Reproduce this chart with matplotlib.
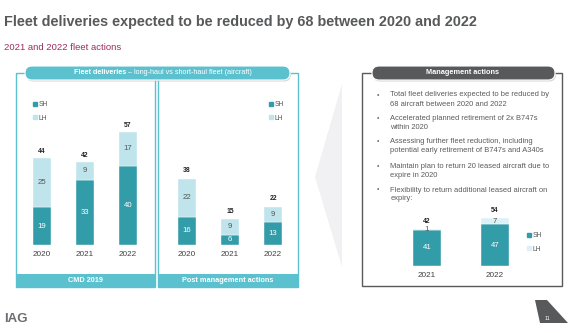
import numpy as np
import matplotlib
matplotlib.use('Agg')
import matplotlib.pyplot as plt
from matplotlib.patches import Rectangle, FancyBboxPatch, Polygon
from matplotlib.lines import Line2D

plt.rcParams['font.family'] = ['Liberation Sans', 'DejaVu Sans']

# chart data
years = ['2020', '2021', '2022']
cmd_sh = [19, 33, 40]
cmd_lh = [25, 9, 17]
post_sh = [16, 6, 13]
post_lh = [22, 9, 9]
mgmt_years = ['2021', '2022']
mgmt_sh = [41, 47]
mgmt_lh = [1, 7]

bullets = [
    ['Total fleet deliveries expected to be reduced by', '68 aircraft between 2020 and 2022'],
    ['Accelerated planned retirement of 2x B747s', 'within 2020'],
    ['Assessing further fleet reduction, including', 'potential early retirement of B747s and A340s'],
    ['Maintain plan to return 20 leased aircraft due to', 'expire in 2020'],
    ['Flexibility to return additional leased aircraft on', 'expiry:'],
]

W, H = 580, 333
TEAL = '#339ca9'
LIGHT = '#bfe4eb'
BAND = '#5cc1ce'
DARK = '#58595b'
TXT = '#404040'

fig = plt.figure(figsize=(W / 100, H / 100), dpi=100)
bg = fig.add_axes([0, 0, 1, 1])
bg.set_xlim(0, W)
bg.set_ylim(H, 0)
bg.axis('off')


def px_axes(x0, y0, x1, y1):
    a = fig.add_axes([x0 / W, 1 - y1 / H, (x1 - x0) / W, (y1 - y0) / H])
    a.patch.set_alpha(0)
    return a


def pill(x0, y0, x1, y1, color):
    r = (y1 - y0) / 2
    sh = FancyBboxPatch((x0 + 1, y0 + 1.5), x1 - x0, y1 - y0,
                        boxstyle='round,pad=0,rounding_size=%f' % r,
                        fc='#bbbbbb', ec='none', alpha=0.6, zorder=3)
    bg.add_patch(sh)
    p = FancyBboxPatch((x0, y0), x1 - x0, y1 - y0,
                       boxstyle='round,pad=0,rounding_size=%f' % r,
                       fc=color, ec='white', lw=0.8, zorder=4)
    bg.add_patch(p)


# title block
bg.text(4, 22, 'Fleet deliveries expected to be reduced by 68 between 2020 and 2022',
        fontsize=10.4, fontweight='bold', color=DARK, va='center', ha='left')
bg.text(4, 47, '2021 and 2022 fleet actions', fontsize=6.8, color='#9b2d5f',
        va='center', ha='left')

# left panels
for x0, x1, lab in [(16, 155, 'CMD 2019'), (158, 298, 'Post management actions')]:
    bg.add_patch(Rectangle((x0, 73), x1 - x0, 214, fc='white', ec=BAND, lw=1.0, zorder=1))
    bg.add_patch(Rectangle((x0, 274), x1 - x0, 13, fc=BAND, ec='none', zorder=2))
    bg.text((x0 + x1) / 2, 280.5, lab, fontsize=5.3, fontweight='bold', color='white',
            ha='center', va='center', zorder=3)
pill(25, 66, 290, 80, BAND)
bg.text(126, 73, 'Fleet deliveries', fontsize=5.2, fontweight='bold', color='white',
        ha='right', va='center', zorder=5)
bg.text(128.5, 73, '\u2013 long-haul vs short-haul fleet (aircraft)', fontsize=5.2,
        color='white', ha='left', va='center', zorder=5)

# faint chevron
bg.add_patch(Polygon([(342, 84), (315, 177), (342, 267)], closed=True,
                     fc='#f1f1f3', ec='none', zorder=0))

# management box
bg.add_patch(Rectangle((362, 73), 200, 213, fc='white', ec=DARK, lw=1.0, zorder=1))
pill(372, 66, 555, 80, DARK)
bg.text(463, 73, 'Management actions', fontsize=5.3, fontweight='bold', color='white',
        ha='center', va='center', zorder=5)

by = [95, 118.5, 141.7, 166.5, 190]
for y, lines in zip(by, bullets):
    bg.text(378, y, '\u2022', fontsize=5.0, color='#707070', ha='center', va='center')
    for k, ln in enumerate(lines):
        bg.text(390.5, y + 9 * k, ln, fontsize=5.4, color='#5a5a5a', ha='left', va='center')

# page marker and logo
bg.add_patch(Polygon([(535, 300), (547, 300), (568, 323), (540, 323)], closed=True,
                     fc=DARK, ec='none'))
bg.text(547, 318, '11', fontsize=3.8, color='white', ha='center', va='center')
bg.text(4, 319, 'IAG', fontsize=9.5, fontweight='bold', color='#6d6e71', ha='left', va='center')


def stacked(ax, labels, sh, lh, width, lh_color, tot_off):
    x = np.arange(len(labels))
    ax.bar(x, sh, width, color=TEAL, ec='white', lw=0.3, zorder=2)
    ax.bar(x, lh, width, bottom=sh, color=lh_color, ec='white', lw=0.3, zorder=2)
    for i in range(len(x)):
        ax.text(x[i], sh[i] / 2, str(sh[i]), ha='center', va='center', fontsize=5.6,
                color='white', zorder=3)
        ax.text(x[i], sh[i] + lh[i] / 2, str(lh[i]), ha='center', va='center',
                fontsize=5.6, color='#555555', zorder=3)
        ax.annotate(str(sh[i] + lh[i]), (x[i], sh[i] + lh[i]), xytext=(0, tot_off),
                    textcoords='offset points', ha='center', va='center', fontsize=4.9,
                    fontweight='bold', color='#222222')
    ax.set_xlim(-0.5, len(x) - 0.5)
    ax.axhline(0, color='#cccccc', lw=0.6, ls=':', zorder=1)
    ax.set_xticks(x)
    ax.set_xticklabels(labels, fontsize=5.9, color=TXT)
    ax.tick_params(length=0, pad=4)
    ax.set_yticks([])
    for s in ax.spines.values():
        s.set_visible(False)


def legend(ax, x, y, lh_color):
    h = [Line2D([], [], marker='s', ls='none', color=TEAL, markersize=2.6),
         Line2D([], [], marker='s', ls='none', color=lh_color, markersize=2.6)]
    ax.legend(h, ['SH', 'LH'], loc='upper left', bbox_to_anchor=(x / W, 1 - y / H),
              bbox_transform=fig.transFigure, frameon=False, fontsize=4.9,
              handlelength=0.6, handletextpad=0.2, labelspacing=0.9, borderpad=0,
              labelcolor='#555555')


ax1 = px_axes(20.5, 106.4, 149.5, 245)
ax1.set_ylim(0, 70)
stacked(ax1, years, cmd_sh, cmd_lh, 0.4, LIGHT, 4.5)
legend(ax1, 30, 98, LIGHT)

ax2 = px_axes(165.5, 122.5, 294.5, 245)
ax2.set_ylim(0, 70)
stacked(ax2, years, post_sh, post_lh, 0.4, LIGHT, 5.5)
legend(ax2, 266, 98, LIGHT)

ax3 = px_axes(393, 204, 529, 266)
ax3.set_ylim(0, 70)
stacked(ax3, mgmt_years, mgmt_sh, mgmt_lh, 0.4, '#dcf1f5', 5.5)
legend(ax3, 524, 229, '#dcf1f5')

fig.savefig('out.png', dpi=100)
